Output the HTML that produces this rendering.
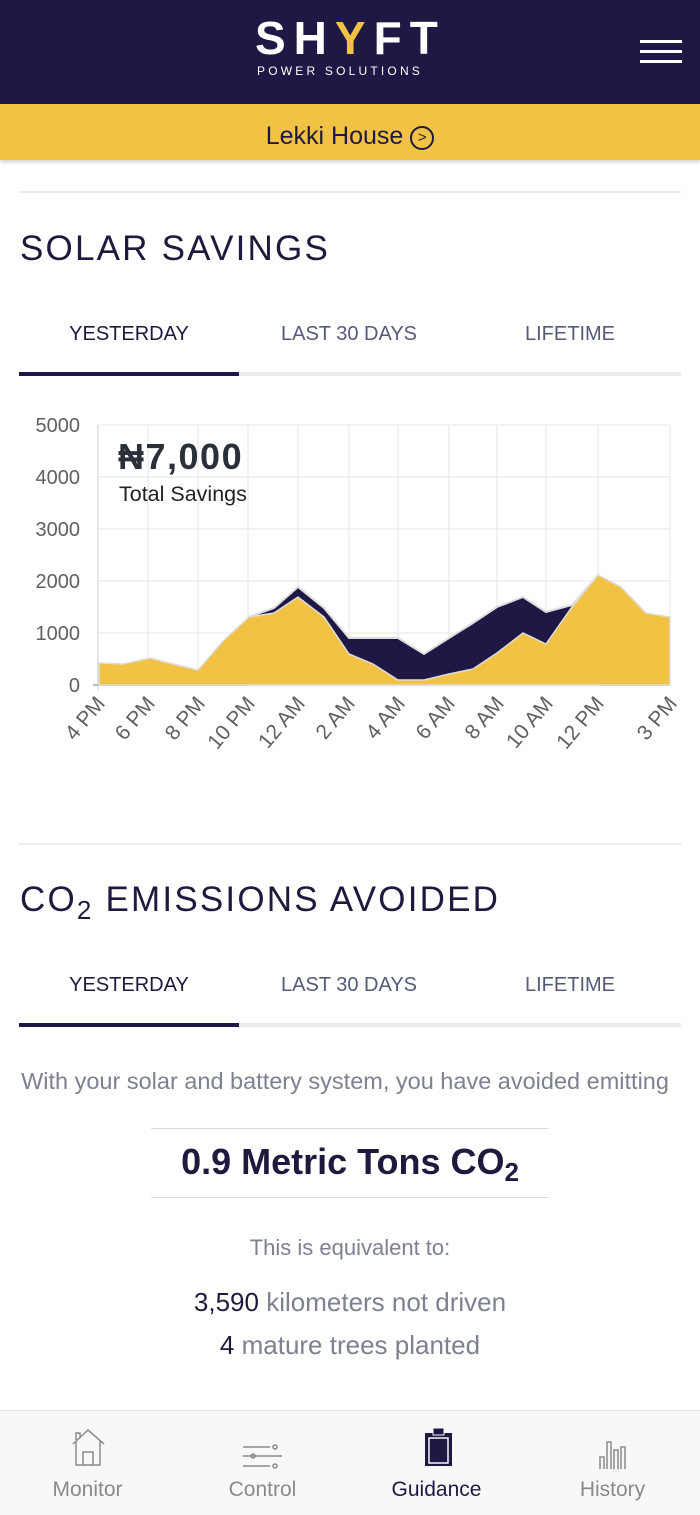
<!DOCTYPE html>
<html><head><meta charset="utf-8"><style>
*{margin:0;padding:0;box-sizing:border-box}
body{width:700px;height:1515px;background:#fff;font-family:"Liberation Sans",sans-serif;position:relative;overflow:hidden;color:#1f1a3d}
.abs{position:absolute}
.hdr{left:0;top:0;width:700px;height:104px;background:#201844}
.loc{left:0;top:104px;width:700px;height:56px;background:#f2c244;box-shadow:0 2px 4px rgba(0,0,0,.2);text-align:center;font-size:25px;line-height:64px;color:#1f1a3d}
.hr{left:19px;width:662px;height:2px;background:#ececec}
.title{left:20px;font-size:35px;letter-spacing:2.2px;color:#1f1a3d}
.tabs{left:19px;width:662px;height:4px;background:#ececec}
.tab{font-size:20px;color:#555a78;text-align:center;width:220px}
.nav{left:0;top:1410px;width:700px;height:105px;background:#f8f8f8;border-top:1px solid #e6e6e6}
.nl{font-size:21px;color:#8a8a8a;text-align:center;width:175px;top:1478px}
</style></head><body>
<div class="abs hdr"></div>
<div class="abs" style="left:255px;top:14px;font-size:46px;color:#fff;letter-spacing:8px;font-weight:bold;line-height:48px">SH<span style="color:#f2c244">Y</span>FT</div>
<div class="abs" style="left:257px;top:64px;font-size:12px;color:#fff;letter-spacing:3.2px">POWER SOLUTIONS</div>
<div class="abs" style="left:640px;top:40px;width:42px;height:3px;background:#fff"></div>
<div class="abs" style="left:640px;top:50px;width:42px;height:3px;background:#fff"></div>
<div class="abs" style="left:640px;top:60px;width:42px;height:3px;background:#fff"></div>
<div class="abs loc">Lekki House <span style="display:inline-block;width:24px;height:24px;border:2px solid #1f1a3d;border-radius:50%;font-size:15px;line-height:20px;vertical-align:2px">&gt;</span></div>

<div class="abs hr" style="top:191px"></div>
<div class="abs title" style="top:229px">SOLAR SAVINGS</div>
<div class="abs tab" style="left:19px;top:323px;color:#1f1a3d">YESTERDAY</div>
<div class="abs tab" style="left:239px;top:323px">LAST 30 DAYS</div>
<div class="abs tab" style="left:460px;top:323px">LIFETIME</div>
<div class="abs tabs" style="top:372px"></div>
<div class="abs" style="left:19px;top:372px;width:220px;height:4px;background:#201844"></div>

<svg class="abs" style="left:0;top:400px" width="700" height="380" viewBox="0 400 700 380">
<g stroke="#e4e4e4" stroke-width="1">
<line x1="98" y1="425" x2="670" y2="425"/><line x1="98" y1="477" x2="670" y2="477"/><line x1="98" y1="529" x2="670" y2="529"/><line x1="98" y1="581" x2="670" y2="581"/><line x1="98" y1="633" x2="670" y2="633"/>
<line x1="148" y1="425" x2="148" y2="685"/><line x1="198" y1="425" x2="198" y2="685"/><line x1="248" y1="425" x2="248" y2="685"/><line x1="298" y1="425" x2="298" y2="685"/><line x1="349" y1="425" x2="349" y2="685"/><line x1="398" y1="425" x2="398" y2="685"/><line x1="449" y1="425" x2="449" y2="685"/><line x1="497" y1="425" x2="497" y2="685"/><line x1="546" y1="425" x2="546" y2="685"/><line x1="598" y1="425" x2="598" y2="685"/><line x1="670" y1="425" x2="670" y2="685"/>
</g>
<line x1="98" y1="425" x2="98" y2="690" stroke="#ccc"/>
<line x1="93" y1="685" x2="670" y2="685" stroke="#bbb" stroke-width="2"/>
<polygon fill="#201844" stroke="#ddd" stroke-width="2" points="249,617 274,608 298,587 324,608 349,638 373,638 398,638 424,654 449,638 473,623 497,607 523,597 546,612 572,605 598,575 598,685 249,685"/>
<polygon fill="#f2c244" stroke="#ddd" stroke-width="1.5" points="99,663 123,664 150,658 173,664 198,670 224,640 249,617 274,613 298,597 324,617 349,654 373,664 398,680 424,680 449,674 473,669 497,653 523,633 546,644 572,607 598,575 621,587 646,613 670,617 670,685 99,685"/>
<g font-size="20" fill="#606060" text-anchor="end">
<text x="80" y="432">5000</text><text x="80" y="484">4000</text><text x="80" y="536">3000</text><text x="80" y="588">2000</text><text x="80" y="640">1000</text><text x="80" y="692">0</text>
</g>
<g font-size="21" fill="#606060" text-anchor="end">
<text transform="translate(106,704) rotate(-50)">4 PM</text><text transform="translate(156,704) rotate(-50)">6 PM</text><text transform="translate(206,704) rotate(-50)">8 PM</text><text transform="translate(256,704) rotate(-50)">10 PM</text><text transform="translate(306,704) rotate(-50)">12 AM</text><text transform="translate(356,704) rotate(-50)">2 AM</text><text transform="translate(406,704) rotate(-50)">4 AM</text><text transform="translate(456,704) rotate(-50)">6 AM</text><text transform="translate(505,704) rotate(-50)">8 AM</text><text transform="translate(554,704) rotate(-50)">10 AM</text><text transform="translate(605,704) rotate(-50)">12 PM</text><text transform="translate(678,704) rotate(-50)">3 PM</text>
</g>
<text x="118" y="469" font-size="36" font-weight="bold" fill="#2b2f3a" letter-spacing="1.5">₦7,000</text>
<text x="119" y="501" font-size="21.5" fill="#222">Total Savings</text>
</svg>

<div class="abs hr" style="top:843px"></div>
<div class="abs title" style="top:880px">CO<span style="font-size:26px;vertical-align:-8px">2</span> EMISSIONS AVOIDED</div>
<div class="abs tab" style="left:19px;top:974px;color:#1f1a3d">YESTERDAY</div>
<div class="abs tab" style="left:239px;top:974px">LAST 30 DAYS</div>
<div class="abs tab" style="left:460px;top:974px">LIFETIME</div>
<div class="abs tabs" style="top:1023px"></div>
<div class="abs" style="left:19px;top:1023px;width:220px;height:4px;background:#201844"></div>
<div class="abs" style="left:0;width:690px;top:1068px;text-align:center;font-size:23.5px;color:#7d8190;white-space:nowrap">With your solar and battery system, you have avoided emitting</div>
<div class="abs hr" style="left:151px;width:398px;top:1128px;height:1px;background:#ddd"></div>
<div class="abs" style="left:0;width:700px;top:1141px;text-align:center;font-size:36px;font-weight:bold;color:#1f1a3d">0.9 Metric Tons CO<span style="font-size:26px;vertical-align:-7px">2</span></div>
<div class="abs hr" style="left:151px;width:398px;top:1197px;height:1px;background:#ddd"></div>
<div class="abs" style="left:0;width:700px;top:1235px;text-align:center;font-size:22px;color:#7d8190">This is equivalent to:</div>
<div class="abs" style="left:0;width:700px;top:1287px;text-align:center;font-size:26px;color:#7d8190"><span style="color:#1f1a3d">3,590</span> kilometers not driven</div>
<div class="abs" style="left:0;width:700px;top:1330px;text-align:center;font-size:26px;color:#7d8190"><span style="color:#1f1a3d">4</span> mature trees planted</div>

<div class="abs nav"></div>
<svg class="abs" style="left:0;top:1420px" width="700" height="50">
<g fill="none" stroke="#8a8a8a" stroke-width="1.5">
<path d="M73 24 L88 10 L104 24 M76 21 V45 H100 V21 M83 45 V32 H93 V45 M76 20 V13 H80 V17"/>
<path d="M243 27 H270 M243 36 H282 M243 46 H270"/><circle cx="275" cy="27" r="2"/><circle cx="253" cy="36" r="2"/><circle cx="275" cy="46" r="2"/>
<path d="M600 49 V37 H604 V49 M607 49 V22 H611 V49 M614 49 V30 H618 V49 M621 49 V27 H625 V49"/>
</g>
<rect x="425" y="13" width="27" height="33" fill="#201844"/>
<rect x="429" y="18" width="19" height="25" fill="none" stroke="#f8f8f8" stroke-width="1.5"/>
<rect x="433" y="8" width="11" height="7" fill="#201844" stroke="#f8f8f8" stroke-width="1"/>
</svg>
<div class="abs nl" style="left:0">Monitor</div>
<div class="abs nl" style="left:175px">Control</div>
<div class="abs nl" style="left:349px;color:#201844">Guidance</div>
<div class="abs nl" style="left:525px">History</div>
</body></html>
